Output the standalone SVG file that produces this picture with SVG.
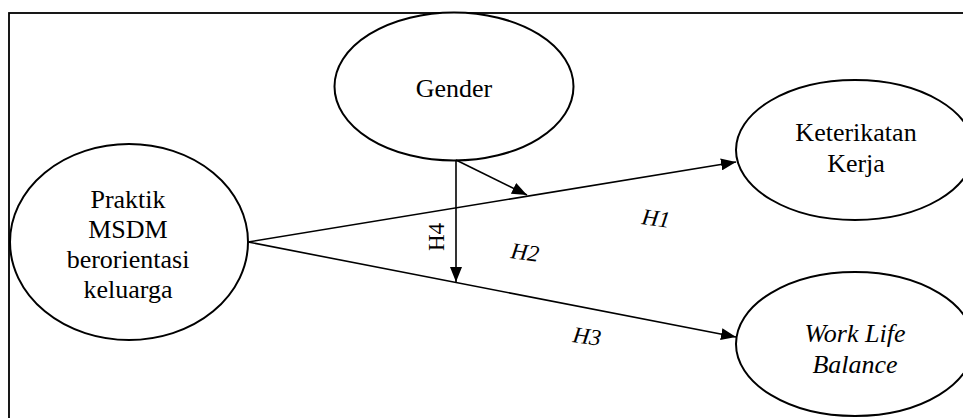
<svg xmlns="http://www.w3.org/2000/svg" width="963" height="418" viewBox="0 0 963 418">
<defs>
<style>
.node{fill:#fff;stroke:#000;stroke-width:2}
.t{font-family:'Liberation Serif','DejaVu Serif',serif;font-size:26px;fill:#000;text-anchor:middle}
.lab{font-family:'Liberation Serif','DejaVu Serif',serif;font-size:23px;fill:#000;text-anchor:middle}
.it{font-style:italic}
.conn line{stroke:#000;stroke-width:1.6;marker-end:url(#ah)}
</style>
<marker id="ah" markerUnits="userSpaceOnUse" markerWidth="15" markerHeight="12" refX="15" refY="6" orient="auto">
<path d="M0,0 L15,6 L0,12 z" fill="#000"/>
</marker>
</defs>
<rect width="963" height="418" fill="#fff"/>
<rect x="9" y="13" width="970" height="420" fill="none" stroke="#000" stroke-width="1.8"/>
<g id="gender">
<ellipse class="node" cx="454" cy="86.5" rx="119.5" ry="74"/>
<text class="t" x="454" y="97" font-family="Liberation Serif, serif">Gender</text>
</g>
<g id="praktik">
<ellipse class="node" cx="129" cy="242" rx="119" ry="98"/>
<text class="t" x="128" y="208">Praktik</text>
<text class="t" x="128" y="238">MSDM</text>
<text class="t" x="128" y="268">berorientasi</text>
<text class="t" x="128" y="298">keluarga</text>
</g>
<g id="keterikatan">
<ellipse class="node" cx="855" cy="150" rx="119" ry="70"/>
<text class="t" x="856" y="141">Keterikatan</text>
<text class="t" x="856" y="172">Kerja</text>
</g>
<g id="wlb">
<ellipse class="node" cx="855" cy="344" rx="119" ry="72"/>
<text class="t it" x="855" y="342">Work Life</text>
<text class="t it" x="855" y="373">Balance</text>
</g>
<g id="connectors" class="conn">
<line x1="248" y1="242" x2="736" y2="162"/>
<line x1="248" y1="242" x2="736" y2="337"/>
<line x1="456" y1="160" x2="456" y2="282"/>
<line x1="456" y1="160" x2="527" y2="195"/>
</g>
<g id="labels">
<text class="lab it" transform="translate(656,218) rotate(8)" y="8">H1</text>
<text class="lab it" transform="translate(525,252) rotate(8)" y="8">H2</text>
<text class="lab it" transform="translate(587,336) rotate(8)" y="8">H3</text>
<text class="lab" transform="translate(444,237) rotate(-90)" y="0">H4</text>
</g>
</svg>
